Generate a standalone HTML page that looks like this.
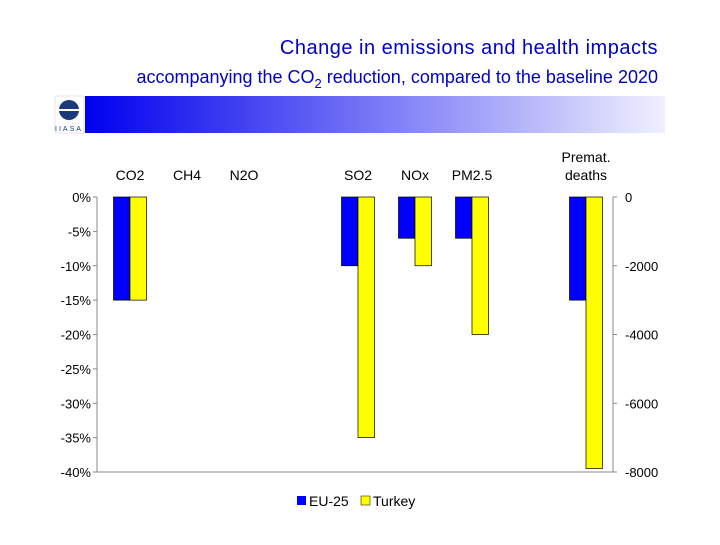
<!DOCTYPE html>
<html><head><meta charset="utf-8"><style>
body{margin:0;background:#fff;width:720px;height:540px;overflow:hidden;font-family:"Liberation Sans",sans-serif}
</style></head><body>
<svg width="720" height="540" xmlns="http://www.w3.org/2000/svg">
<defs><linearGradient id="g" x1="0" x2="1"><stop offset="0" stop-color="#0000ee"/><stop offset="1" stop-color="#f0f0ff"/></linearGradient></defs>
<text x="658" y="54" text-anchor="end" font-size="20" fill="#0000cc" letter-spacing="0.5">Change in emissions and health impacts</text>
<text x="658" y="83" text-anchor="end" font-size="18" fill="#0000cc">accompanying the CO<tspan font-size="13" dy="5">2</tspan><tspan dy="-5"> reduction, compared to the baseline 2020</tspan></text>
<rect x="85" y="96" width="580" height="37" fill="url(#g)"/>
<g>
<rect x="55" y="96" width="29" height="37" fill="#fff" stroke="#ccc" stroke-width="0.5"/>
<circle cx="69" cy="110" r="10" fill="#1a3a7a"/>
<rect x="59" y="109" width="20" height="2" fill="#fff"/>
<text x="69" y="131" text-anchor="middle" font-size="7" fill="#1a3a7a" letter-spacing="2">IIASA</text>
</g>
<g id="plot"></g>
</svg>
<script>
const categories=["CO2","CH4","N2O","","SO2","NOx","PM2.5","","Premat.|deaths"];
const euPct=[-15,null,null,null,-10,-6,-6,null,null];
const trPct=[-15,null,null,null,-35,-10,-20,null,null];
const deathsEU=-3000, deathsTR=-7900;
const leftTicks=["0%","-5%","-10%","-15%","-20%","-25%","-30%","-35%","-40%"];
const rightTicks=["0","-2000","-4000","-6000","-8000"];
const NS="http://www.w3.org/2000/svg";
const g=document.getElementById('plot');
const X0=97,X1=613,Y0=197,Y1=472;
const slot=57;
const C0=130;
const yL=v=>Y0+(-v)/40*(Y1-Y0);
const yR=v=>Y0+(-v)/8000*(Y1-Y0);
function el(t,a,txt){const e=document.createElementNS(NS,t);for(const k in a)e.setAttribute(k,a[k]);if(txt!==undefined)e.textContent=txt;g.appendChild(e);return e;}
let e;
e=el('line',{x1:X0,y1:Y0,x2:X0,y2:Y1,stroke:'#888'});


e=el('line',{x1:X1,y1:Y0,x2:X1,y2:Y1,stroke:'#888'});


e=el('line',{x1:X0,y1:Y1,x2:X1,y2:Y1,stroke:'#888'});


leftTicks.forEach((t,i)=>{const y=yL(-i*5);
e=el('line',{x1:X0-4,y1:y,x2:X0,y2:y,stroke:'#888'});
e=el('text',{x:X0-6,y:y+5,'text-anchor':'end','font-size':13},t);

});
rightTicks.forEach((t,i)=>{const y=yR(-i*2000);
e=el('line',{x1:X1,y1:y,x2:X1+4,y2:y,stroke:'#888'});
e=el('text',{x:X1+12,y:y+5,'font-size':13},t);

});
const bw=16.5;
function bar(i,y,col,name){const cx=C0+slot*i;const x=col==='eu'?cx-bw:cx;
e=el('rect',{x:x,y:Y0,width:bw,height:y-Y0,fill:col==='eu'?'#0000ff':'#ffff00',stroke:'#000','stroke-width':0.7});

}
categories.forEach((c,i)=>{
if(c){const cx=C0+slot*i;const parts=c.split('|');
parts.forEach((p,j)=>{e=el('text',{x:cx,y:180-(parts.length-1-j)*18,'text-anchor':'middle','font-size':14},p);

});}
if(euPct[i]!=null)bar(i,yL(euPct[i]),'eu','bar-eu-'+i);
if(trPct[i]!=null)bar(i,yL(trPct[i]),'tr','bar-turkey-'+i);
});
bar(8,yR(deathsEU),'eu','bar-eu-deaths');
bar(8,yR(deathsTR),'tr','bar-turkey-deaths');
e=el('rect',{x:297,y:496,width:9,height:9,fill:'#0000ff'});


e=el('text',{x:309,y:506,'font-size':14},'EU-25');


e=el('rect',{x:361,y:496,width:9,height:9,fill:'#ffff00',stroke:'#000','stroke-width':0.5});


e=el('text',{x:373,y:506,'font-size':14},'Turkey');


</script>
</body></html>
